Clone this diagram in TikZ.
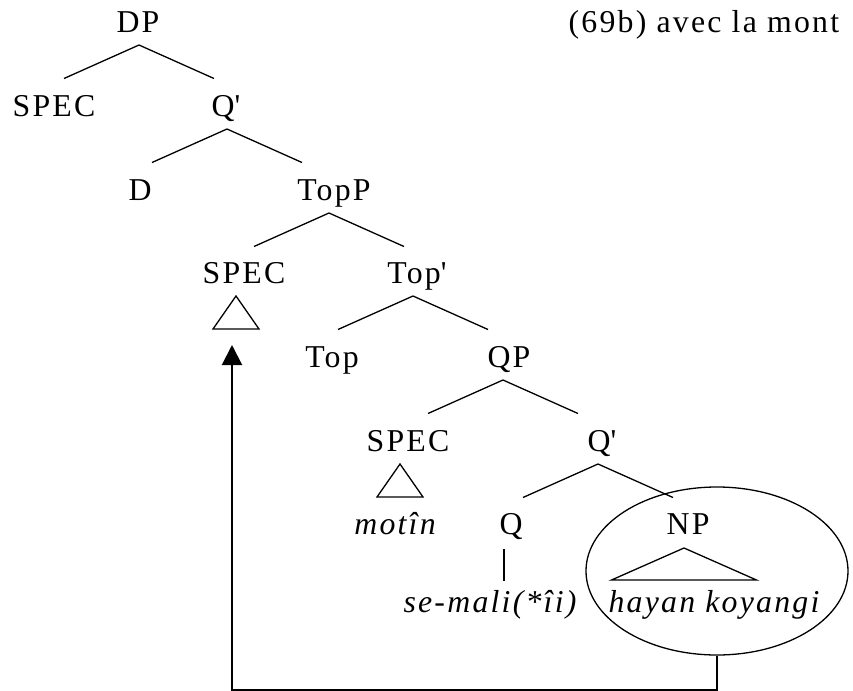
\documentclass[tikz,border=0pt]{standalone}
\usepackage{fontspec}
\setmainfont{Liberation Serif}[LetterSpace=7]
\usetikzlibrary{shapes.geometric,arrows.meta,calc}

\newcommand{\treefont}{\fontsize{15.9}{19}\selectfont}
\tikzset{
  cat/.style={anchor=base,inner sep=0pt},
  word/.style={cat,font=\treefont\itshape},
  ring/.style={draw,ellipse,inner sep=0pt,minimum width=131pt,minimum height=84pt},
  move/.style={line width=1pt,-{Triangle[length=10pt,width=10pt]}},
}
% binary branch under a node: apex shifted by #2, arms 75 wide
\newcommand{\fork}[2]{%
  \draw ($(#1.base)+(#2,13)$) ++(-75,33.5) -- ++(75,-33.5) -- ++(75,33.5);}

\begin{document}
\begin{tikzpicture}[x=0.5pt,y=-0.5pt,font=\treefont,line width=0.65pt]
  \useasboundingbox (0,0) rectangle (853,691);
  % categories
  \node[cat] (dp) at (138,32) {DP};
  \node[cat,anchor=base west] (title) at (568,32) {(69b) avec la mont};
  \node[cat] (spec1) at (54,116) {SPEC};
  \node[cat] (q1) at (226,116) {Q\textquotesingle};
  \node[cat] (d) at (140,200) {D};
  \node[cat] (topp) at (334,200) {TopP};
  \node[cat] (spec2) at (244,283) {SPEC};
  \node[cat] (topbar) at (417,283) {Top\textquotesingle};
  \node[cat] (top) at (332,367) {Top};
  \node[cat] (qp) at (509,367) {QP};
  \node[cat] (spec3) at (408,451) {SPEC};
  \node[cat] (q2) at (602,451) {Q\textquotesingle};
  \node[cat] (q) at (511,534) {Q};
  \node[cat] (np) at (688,534) {NP};
  % words
  \node[word] (motin) at (395,534) {motîn};
  \node[word] (semali) at (490,612) {se-mali(*îi)};
  \node[word] (hayan) at (714,612) {hayan koyangi};
  % branches
  \fork{dp}{1}
  \fork{q1}{1}
  \fork{topp}{-5}
  \fork{topbar}{-4}
  \fork{qp}{-6}
  \fork{q2}{-4}
  % triangles
  \draw ($(spec2.base)+(-8,13)$) -- ++(23,33) -- ++(-46,0) -- cycle;
  \draw ($(spec3.base)+(-8,13)$) -- ++(23,33) -- ++(-46,0) -- cycle;
  \draw ($(np.base)+(-4,14)$) -- ++(72.5,32) -- ++(-145,0) -- cycle;
  \draw ($(q.base)+(-7,15)$) -- ++(0,32);
  % movement
  \node[ring] (np-ring) at (717,571) {};
  \coordinate (landing) at (232,345);
  \draw[move] (np-ring.south) -- ++(0,34) -| (landing);
\end{tikzpicture}
\end{document}
